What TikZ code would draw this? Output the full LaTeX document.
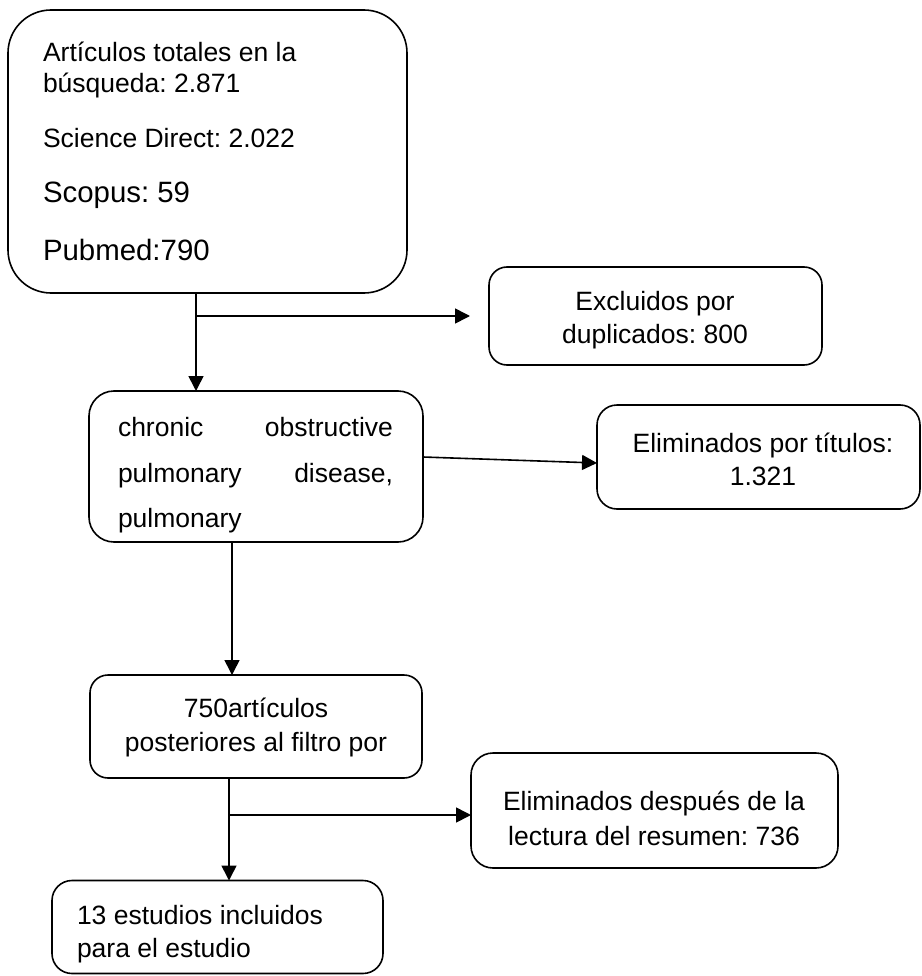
\documentclass[tikz,border=0pt]{standalone}
\usepackage{fontspec}
\setmainfont{Liberation Sans}
\usetikzlibrary{arrows.meta}
\frenchspacing
\tikzset{
  box/.style={draw=black, line width=1.6pt, inner sep=0pt, outer sep=0pt, fill=none},
  arr/.style={-{Triangle[length=15pt,width=15pt]}, line width=1.6pt},
  txt/.style={inner sep=0pt, outer sep=0pt, font=\fontsize{26.5}{31}\selectfont},
  big/.style={inner sep=0pt, outer sep=0pt, font=\fontsize{29.4}{34}\selectfont}
}
\begin{document}
\frenchspacing
\begin{tikzpicture}[x=1pt,y=-1pt]
\useasboundingbox (0,0) rectangle (921,976);
\fill[white] (0,0) rectangle (921,976);

% boxes
\node[box, minimum width=399pt, minimum height=283pt, rounded corners=43pt] (top) at (207.5,151.5) {};
\node[box, minimum width=333pt, minimum height=98pt, rounded corners=18pt] (exc) at (655.5,316) {};
\node[box, minimum width=334pt, minimum height=151pt, rounded corners=25pt] (mid) at (256,466.5) {};
\node[box, minimum width=323pt, minimum height=104pt, rounded corners=20pt] (tit) at (758.5,457) {};
\node[box, minimum width=332pt, minimum height=103pt, rounded corners=18pt] (fil) at (256,726.5) {};
\node[box, minimum width=367pt, minimum height=115pt, rounded corners=22pt] (desp) at (654.5,810.5) {};
\node[box, minimum width=331pt, minimum height=93pt, rounded corners=20pt] (inc) at (217.5,927) {};

% texts
\node[txt, anchor=base west] (t1) at (43,62) {Artículos totales en la};
\node[txt, anchor=base west] (t2) at (43,93) {búsqueda: 2.871};
\node[txt, anchor=base west] (t3) at (43,148) {Science Direct: 2.022};
\node[big, anchor=base west] (t4) at (43,203) {Scopus: 59};
\node[big, anchor=base west] (t5) at (43,260) {Pubmed:790};

\node[txt, anchor=base] (e1) at (655,310) {Excluidos por};
\node[txt, anchor=base] (e2) at (655,343) {duplicados: 800};

\node[txt, anchor=base west] (m1) at (118,436) {\makebox[275pt]{chronic\hfill obstructive}};
\node[txt, anchor=base west] (m2) at (118,482) {\makebox[275pt]{pulmonary\hfill disease,}};
\node[txt, anchor=base west] (m3) at (118,527) {pulmonary};

\node[txt, anchor=base] (ti1) at (763,452) {Eliminados por títulos:};
\node[txt, anchor=base] (ti2) at (763,485) {1.321};

\node[txt, anchor=base] (f1) at (256,717) {750artículos};
\node[txt, anchor=base] (f2) at (256,751) {posteriores al filtro por};

\node[txt, anchor=base] (d1) at (654,810) {Eliminados después de la};
\node[txt, anchor=base] (d2) at (654,845) {lectura del resumen: 736};

\node[txt, anchor=base west] (i1) at (77,924) {13 estudios incluidos};
\node[txt, anchor=base west] (i2) at (77,957) {para el estudio};

% connectors
\coordinate (j1) at (196,316);
\coordinate (tip1) at (470,316);
\draw[arr] (j1 |- top.south) -- (j1 |- mid.north);
\draw[arr] (j1) -- (tip1);

\coordinate (s2) at (423,457);
\coordinate (e2b) at (597,463);
\draw[arr] (s2) -- (e2b);

\coordinate (j3) at (232,542);
\draw[arr] (j3 |- mid.south) -- (j3 |- fil.north);

\coordinate (j4) at (229,815);
\draw[arr] (j4 |- fil.south) -- (j4 |- inc.north);
\draw[arr] (j4) -- (j4 -| desp.west);
\end{tikzpicture}
\end{document}
